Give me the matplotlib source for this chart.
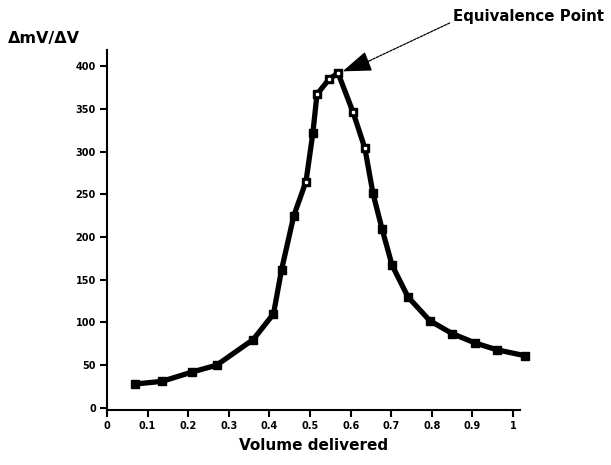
import matplotlib
matplotlib.use("Agg")
import matplotlib.pyplot as plt

# ============================================================
# DATA
# ============================================================
volume = [0.07, 0.135, 0.21, 0.27, 0.36, 0.41, 0.43, 0.46, 0.49, 0.507,
          0.517, 0.547, 0.569, 0.606, 0.635, 0.655, 0.677, 0.702, 0.741,
          0.795, 0.85, 0.906, 0.96, 1.03]
dmv_dv = [28, 31, 42, 50, 80, 110, 162, 225, 265, 322,
          367, 385, 392, 346, 304, 251, 210, 167, 130,
          102, 87, 76, 68, 61]
hollow_idx = [8, 10, 11, 12, 13, 14]

x_ticks = [0, 0.1, 0.2, 0.3, 0.4, 0.5, 0.6, 0.7, 0.8, 0.9, 1]
x_labels = ["0", "0.1", "0.2", "0.3", "0.4", "0.5", "0.6", "0.7", "0.8", "0.9", "1"]
y_ticks = [0, 50, 100, 150, 200, 250, 300, 350, 400]

# ============================================================
# FIGURE
# ============================================================
fig = plt.figure(figsize=(6.11, 4.65), dpi=100)
ax = fig.add_axes([107 / 611, 1 - 410 / 465, 413 / 611, 360 / 465])

ax.plot(volume, dmv_dv, color="black", lw=3.8, marker="s", ms=6,
        mfc="black", mec="black", clip_on=False, zorder=3)
ax.plot([volume[i] for i in hollow_idx], [dmv_dv[i] for i in hollow_idx],
        ls="none", marker="s", ms=1.6, mfc="white", mec="white", zorder=4)

ax.set_xlim(0, 1.017)
ax.set_ylim(-2.5, 419)

for s in ["top", "right"]:
    ax.spines[s].set_visible(False)
for s in ["left", "bottom"]:
    ax.spines[s].set_linewidth(1.5)

ax.set_xticks(x_ticks)
ax.set_xticklabels(x_labels)
ax.set_yticks(y_ticks)
ax.tick_params(length=5, width=1.5, labelsize=7, pad=3)
for lbl in ax.get_xticklabels() + ax.get_yticklabels():
    lbl.set_fontweight("bold")

ax.set_xlabel("Volume delivered", fontsize=11, fontweight="bold", labelpad=5)
fig.text(8 / 611, 1 - 38 / 465, "ΔmV/ΔV", fontsize=11.5, fontweight="bold",
         ha="left", va="center")

# ------------------------------------------------------------
# Equivalence point annotation
# ------------------------------------------------------------
fig.text(453 / 611, 1 - 17 / 465, "Equivalence Point", fontsize=10.8,
         fontweight="bold", ha="left", va="center")
ax.annotate("", xy=(0.64, 405), xytext=(0.85, 452),
            arrowprops=dict(arrowstyle="-", color="black", lw=0.9,
                            linestyle=(0, (2, 1))),
            annotation_clip=False)
ax.annotate("", xy=(0.58, 394), xytext=(0.645, 406),
            arrowprops=dict(arrowstyle="-|>,head_length=0.9,head_width=0.32",
                            color="black", lw=1, mutation_scale=20,
                            shrinkA=0, shrinkB=0),
            annotation_clip=False)

plt.savefig("out.png", dpi=100)
plt.close()
